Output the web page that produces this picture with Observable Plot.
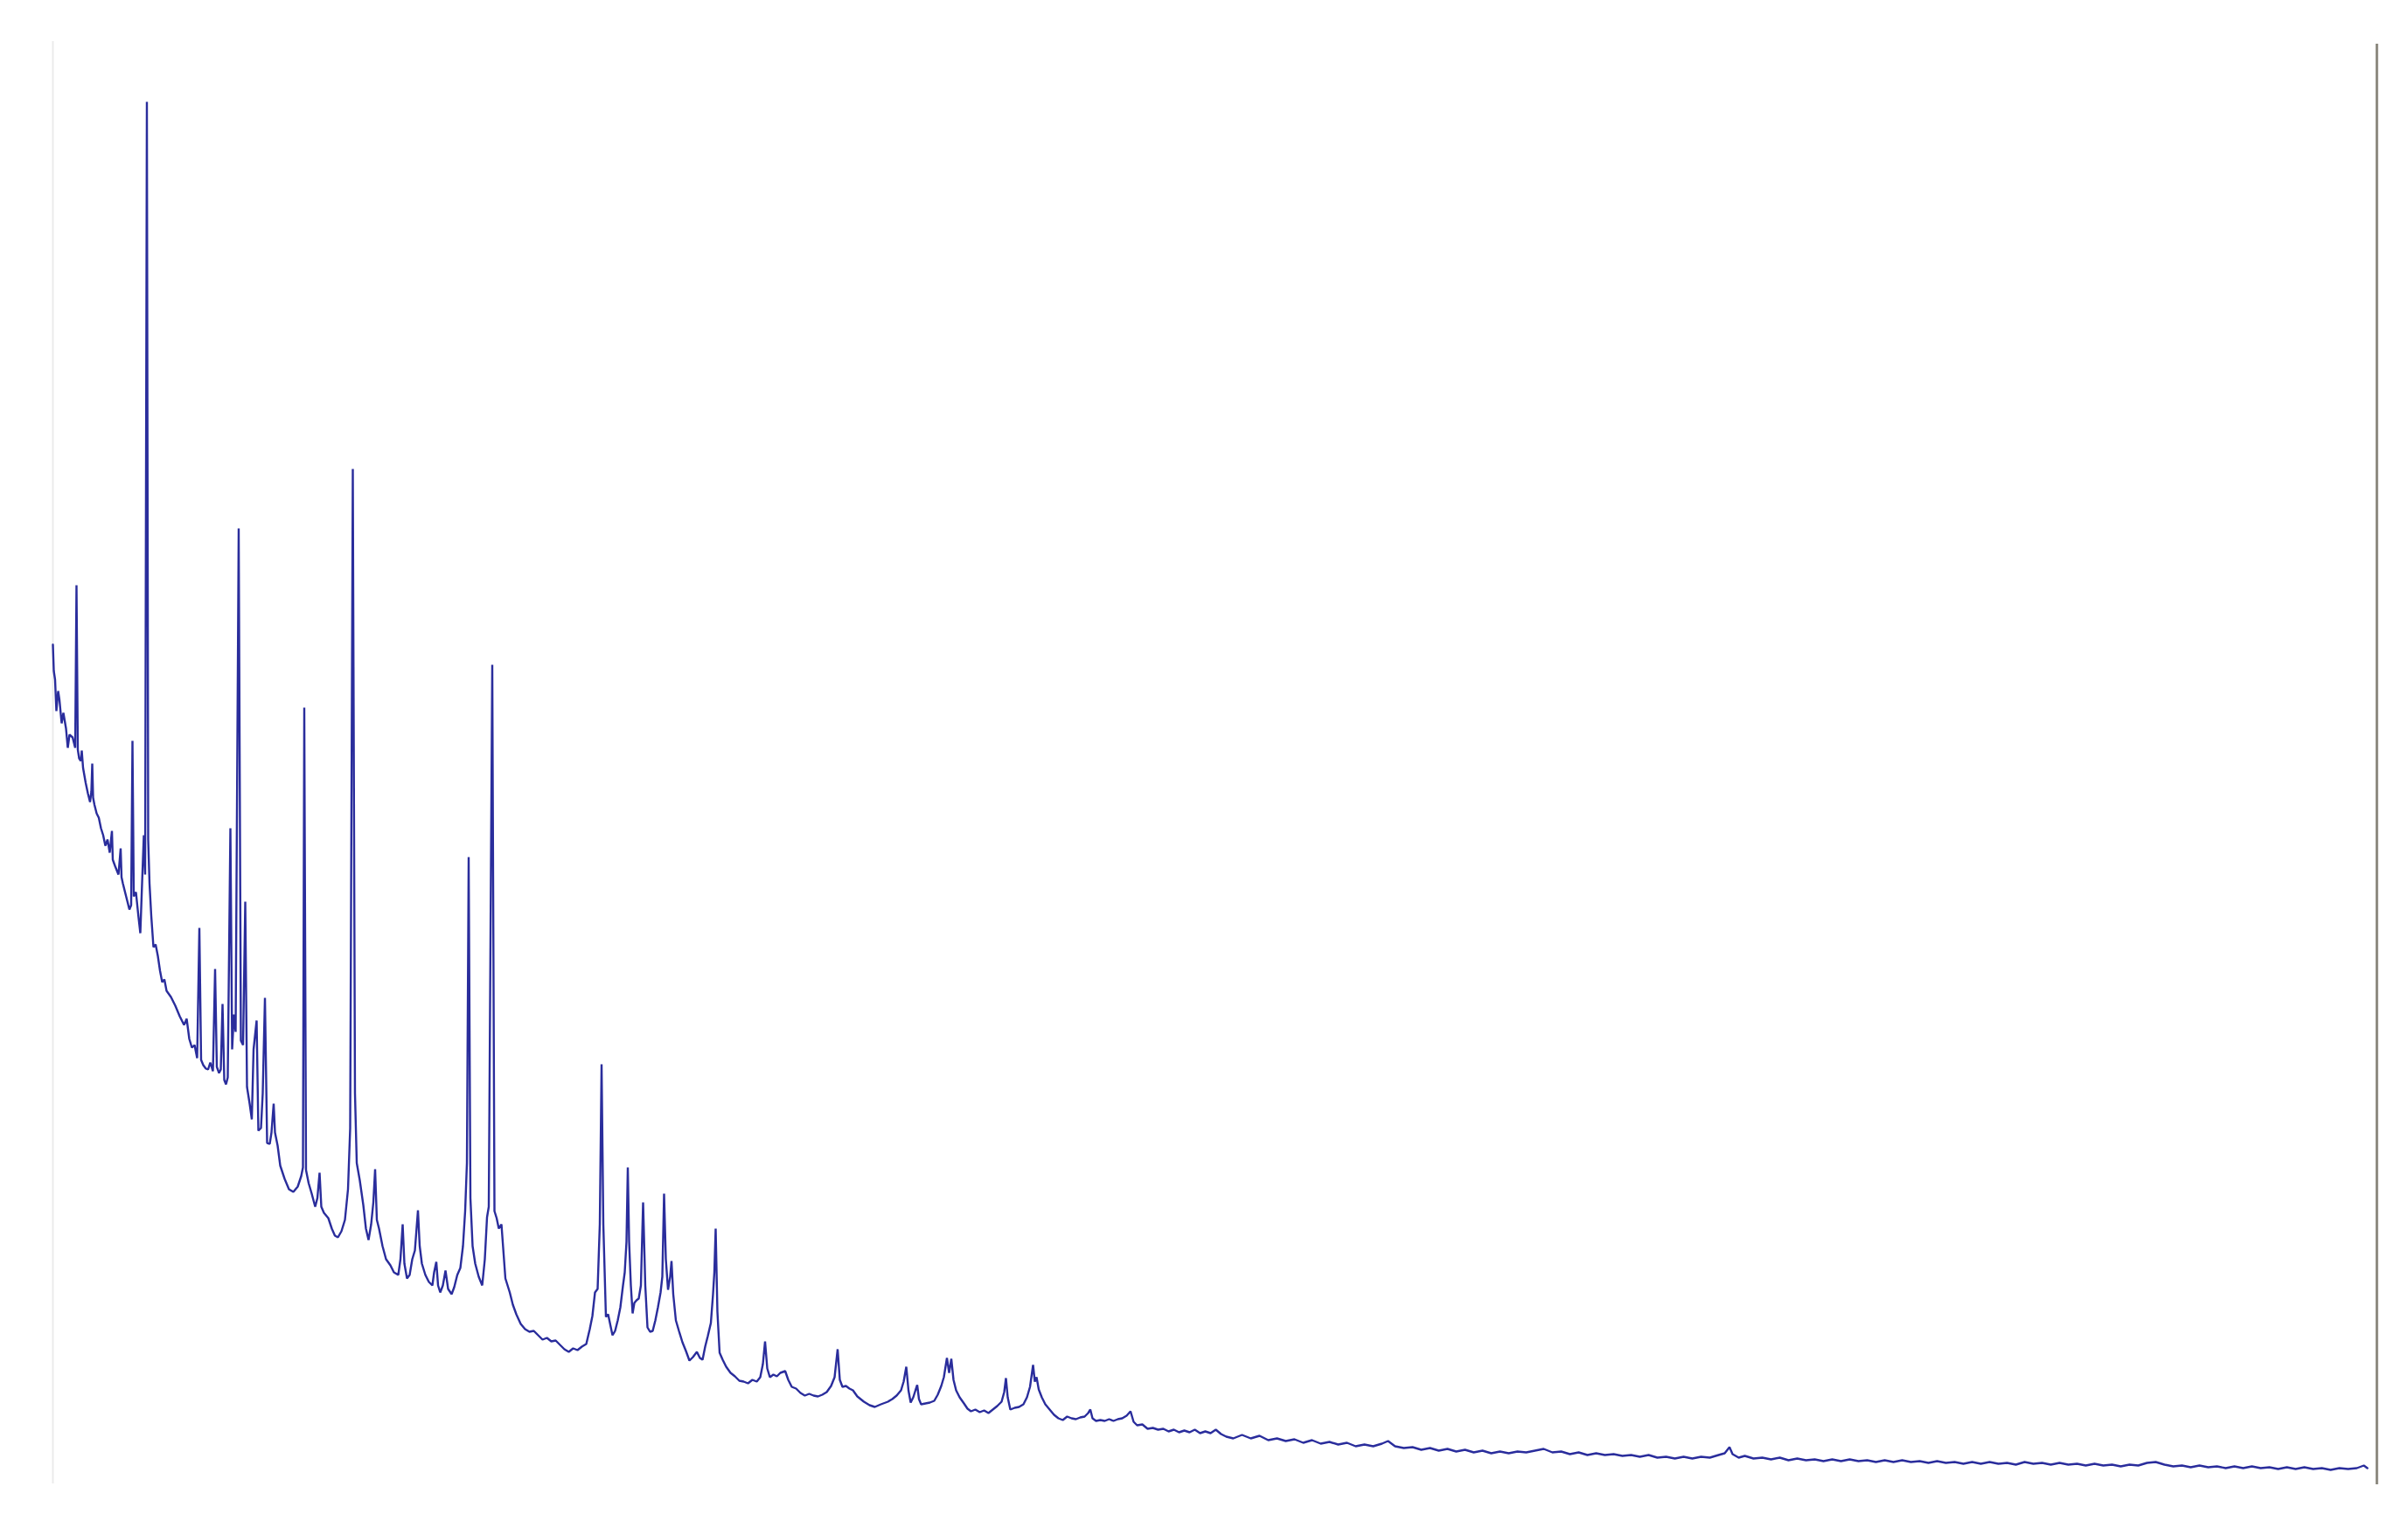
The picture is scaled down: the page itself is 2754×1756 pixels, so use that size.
<!DOCTYPE html>
<html>
<head>
<meta charset="utf-8">
<script src="https://cdn.jsdelivr.net/npm/d3@7"></script>
<script src="https://cdn.jsdelivr.net/npm/@observablehq/plot@0.6"></script>
<style>
  html, body { margin: 0; padding: 0; background: #ffffff; }
  #chart svg { display: block; }
</style>
</head>
<body>
<div id="chart"></div>
<script>
// 2θ (degrees) of each recorded point
const twoTheta = [
  5.000, 5.029, 5.071, 5.114, 5.171, 5.214, 5.286, 5.343, 5.429, 5.486,
  5.543, 5.643, 5.729, 5.771, 5.814, 5.857, 5.914, 5.943, 5.986, 6.071,
  6.143, 6.214, 6.257, 6.286, 6.314, 6.357, 6.429, 6.500, 6.571, 6.643,
  6.714, 6.786, 6.857, 6.929, 6.957, 7.029, 7.143, 7.214, 7.243, 7.286,
  7.357, 7.429, 7.500, 7.557, 7.600, 7.643, 7.714, 7.786, 7.857, 7.914,
  7.971, 8.014, 8.071, 8.114, 8.157, 8.214, 8.286, 8.357, 8.429, 8.500,
  8.571, 8.643, 8.714, 8.857, 9.000, 9.143, 9.286, 9.371, 9.457, 9.543,
  9.629, 9.714, 9.786, 9.843, 9.914, 10.000, 10.071, 10.143, 10.229, 10.300,
  10.357, 10.429, 10.486, 10.543, 10.600, 10.657, 10.714, 10.800, 10.857, 10.914,
  10.971, 11.071, 11.143, 11.214, 11.286, 11.343, 11.429, 11.500, 11.557, 11.657,
  11.714, 11.800, 11.857, 11.929, 12.000, 12.086, 12.143, 12.214, 12.257, 12.343,
  12.429, 12.571, 12.714, 12.857, 13.000, 13.114, 13.171, 13.214, 13.271, 13.357,
  13.457, 13.571, 13.643, 13.714, 13.771, 13.857, 14.000, 14.114, 14.214, 14.314,
  14.429, 14.543, 14.643, 14.714, 14.800, 14.871, 14.929, 15.029, 15.143, 15.229,
  15.314, 15.400, 15.471, 15.529, 15.586, 15.657, 15.771, 15.886, 16.029, 16.143,
  16.286, 16.357, 16.429, 16.486, 16.571, 16.657, 16.743, 16.829, 16.929, 16.986,
  17.057, 17.171, 17.286, 17.400, 17.457, 17.529, 17.586, 17.657, 17.743, 17.829,
  17.914, 18.029, 18.114, 18.214, 18.314, 18.400, 18.471, 18.529, 18.586, 18.643,
  18.714, 18.800, 18.914, 19.029, 19.114, 19.186, 19.243, 19.357, 19.429, 19.500,
  19.571, 19.657, 19.786, 19.929, 20.029, 20.143, 20.286, 20.429, 20.571, 20.714,
  20.857, 21.000, 21.143, 21.286, 21.429, 21.571, 21.714, 21.857, 22.000, 22.143,
  22.286, 22.429, 22.543, 22.629, 22.714, 22.800, 22.871, 22.929, 22.986, 23.071,
  23.143, 23.214, 23.286, 23.371, 23.457, 23.543, 23.629, 23.686, 23.743, 23.786,
  23.829, 23.886, 23.943, 24.000, 24.071, 24.143, 24.214, 24.286, 24.357, 24.429,
  24.514, 24.600, 24.686, 24.771, 24.857, 24.914, 24.971, 25.029, 25.100, 25.171,
  25.214, 25.271, 25.357, 25.457, 25.571, 25.686, 25.800, 25.914, 26.043, 26.143,
  26.229, 26.314, 26.400, 26.500, 26.571, 26.614, 26.657, 26.714, 26.786, 26.886,
  27.000, 27.143, 27.286, 27.429, 27.571, 27.714, 27.857, 28.000, 28.114, 28.200,
  28.271, 28.343, 28.429, 28.543, 28.657, 28.771, 28.929, 29.029, 29.143, 29.286,
  29.429, 29.571, 29.714, 29.857, 30.000, 30.143, 30.286, 30.429, 30.543, 30.643,
  30.714, 30.800, 30.914, 31.029, 31.143, 31.286, 31.500, 31.686, 31.857, 32.057,
  32.286, 32.429, 32.571, 32.714, 32.800, 32.886, 32.957, 33.029, 33.114, 33.186,
  33.243, 33.300, 33.371, 33.514, 33.657, 33.800, 33.914, 34.029, 34.114, 34.214,
  34.286, 34.357, 34.429, 34.514, 34.629, 34.771, 34.886, 35.000, 35.143, 35.286,
  35.429, 35.571, 35.714, 35.857, 36.000, 36.086, 36.143, 36.200, 36.286, 36.429,
  36.571, 36.714, 36.829, 36.929, 37.029, 37.086, 37.143, 37.214, 37.314, 37.429,
  37.571, 37.714, 37.857, 38.000, 38.143, 38.286, 38.429, 38.571, 38.714, 38.829,
  38.900, 38.971, 39.086, 39.229, 39.371, 39.514, 39.657, 39.800, 39.943, 40.086,
  40.214, 40.314, 40.429, 40.600, 40.771, 40.943, 41.114, 41.286, 41.457, 41.629,
  41.800, 41.971, 42.143, 42.314, 42.486, 42.657, 42.829, 43.000, 43.171, 43.343,
  43.571, 43.857, 44.143, 44.429, 44.714, 45.000, 45.286, 45.571, 45.857, 46.143,
  46.429, 46.714, 47.000, 47.286, 47.571, 47.857, 48.143, 48.429, 48.629, 48.857,
  49.143, 49.429, 49.714, 50.000, 50.286, 50.571, 50.857, 51.143, 51.429, 51.714,
  52.000, 52.286, 52.571, 52.857, 53.143, 53.429, 53.714, 54.000, 54.286, 54.571,
  54.857, 55.143, 55.429, 55.714, 56.000, 56.286, 56.571, 56.857, 57.143, 57.429,
  57.714, 58.000, 58.286, 58.571, 58.857, 59.143, 59.429, 59.629, 59.786, 59.886,
  60.086, 60.286, 60.571, 60.857, 61.143, 61.429, 61.714, 62.000, 62.286, 62.571,
  62.857, 63.143, 63.429, 63.714, 64.000, 64.286, 64.571, 64.857, 65.143, 65.429,
  65.714, 66.000, 66.286, 66.571, 66.857, 67.143, 67.429, 67.714, 68.000, 68.286,
  68.571, 68.857, 69.143, 69.429, 69.714, 70.000, 70.286, 70.571, 70.857, 71.143,
  71.429, 71.714, 72.000, 72.286, 72.571, 72.857, 73.143, 73.429, 73.714, 74.000,
  74.286, 74.571, 74.857, 75.143, 75.429, 75.714, 76.000, 76.286, 76.571, 76.857,
  77.143, 77.429, 77.714, 78.000, 78.286, 78.571, 78.857, 79.143, 79.429, 79.714,
  80.000, 80.286, 80.514, 80.629
];

// measured intensity (counts) at each 2θ
const intensity = [
  963, 933, 923, 887, 910, 900, 873, 885, 867, 845,
  860, 857, 845, 1031, 843, 833, 830, 842, 822, 805,
  793, 783, 795, 827, 788, 780, 770, 765, 753, 745,
  733, 740, 725, 750, 717, 710, 700, 730, 697, 690,
  680, 670, 660, 665, 853, 675, 680, 655, 633, 690,
  745, 700, 1584, 740, 690, 653, 617, 620, 607, 590,
  577, 580, 567, 560, 550, 538, 528, 535, 512, 502,
  505, 490, 639, 488, 482, 478, 477, 485, 475, 592,
  480, 473, 477, 552, 465, 460, 468, 753, 500, 540,
  520, 1096, 510, 505, 669, 457, 438, 420, 500, 533,
  407, 410, 450, 559, 393, 392, 405, 438, 405, 390,
  367, 352, 340, 337, 343, 355, 365, 891, 362, 347,
  335, 320, 330, 359, 320, 313, 307, 295, 287, 285,
  292, 305, 340, 410, 1164, 450, 370, 350, 322, 295,
  282, 300, 325, 363, 305, 295, 275, 260, 253, 245,
  242, 260, 300, 255, 238, 242, 260, 270, 316, 275,
  255, 242, 234, 230, 245, 257, 230, 222, 230, 247,
  226, 220, 228, 242, 250, 275, 315, 370, 720, 330,
  275, 255, 240, 230, 260, 308, 320, 940, 315, 307,
  295, 300, 238, 222, 208, 197, 186, 180, 177, 178,
  173, 168, 170, 166, 167, 162, 157, 154, 158, 156,
  160, 163, 180, 195, 222, 226, 300, 483, 300, 194,
  197, 185, 173, 178, 190, 205, 230, 245, 280, 365,
  280, 230, 198, 210, 213, 215, 230, 325, 230, 182,
  177, 178, 190, 205, 222, 240, 335, 260, 225, 240,
  258, 220, 190, 178, 165, 155, 144, 148, 154, 147,
  145, 160, 172, 187, 220, 245, 295, 200, 153, 145,
  137, 130, 126, 121, 120, 118, 122, 120, 125, 140,
  166, 135, 125, 128, 126, 130, 132, 122, 114, 112,
  107, 104, 106, 104, 103, 105, 108, 115, 125, 157,
  122, 114, 115, 112, 110, 103, 97, 93, 91, 94,
  97, 100, 104, 110, 120, 137, 110, 96, 102, 110,
  116, 100, 94, 95, 96, 98, 105, 115, 125, 147,
  130, 146, 122, 110, 102, 95, 89, 86, 88, 85,
  87, 84, 88, 92, 97, 108, 124, 102, 88, 90,
  91, 94, 102, 114, 139, 120, 125, 111, 102, 94,
  88, 82, 78, 76, 80, 78, 77, 79, 80, 84,
  88, 78, 75, 76, 75, 77, 75, 77, 78, 81,
  86, 74, 70, 71, 66, 67, 65, 66, 63, 65,
  62, 64, 62, 65, 61, 63, 61, 65, 60, 57,
  55, 59, 55, 58, 53, 55, 52, 54, 50, 53,
  49, 51, 48, 50, 46, 48, 46, 49, 52, 46,
  44, 45, 42, 44, 41, 43, 40, 42, 39, 41,
  38, 40, 38, 40, 39, 41, 43, 39, 40, 37,
  39, 36, 38, 36, 37, 35, 36, 34, 36, 33,
  34, 32, 34, 32, 34, 33, 36, 38, 45, 37,
  33, 35, 32, 33, 31, 33, 30, 32, 30, 31,
  29, 31, 29, 31, 29, 30, 28, 30, 28, 30,
  28, 29, 27, 29, 27, 28, 26, 28, 26, 28,
  26, 27, 25, 28, 26, 27, 25, 27, 25, 26,
  24, 26, 24, 25, 23, 25, 24, 27, 28, 25,
  23, 24, 22, 24, 22, 23, 21, 23, 21, 23,
  21, 22, 20, 22, 20, 22, 20, 21, 19, 21,
  20, 21, 24, 21
];

// instrument frame (in 2θ / counts)
const frameLeft = 5.0;
const frameRight = 80.94;
const frameLeftSpan = [3, 1653];
const frameRightSpan = [2, 1650];

const pattern = twoTheta.map((t, i) => ({t, c: intensity[i]}));

const chart = Plot.plot({
  width: 2754,
  height: 1756,
  marginLeft: 60,
  marginRight: 34,
  marginTop: 50,
  marginBottom: 56,
  x: {domain: [5, 81], axis: null},
  y: {domain: [0, 1650], axis: null},
  marks: [
    Plot.ruleX([frameLeft], {y1: frameLeftSpan[0], y2: frameLeftSpan[1], stroke: "#ebebeb", strokeWidth: 2}),
    Plot.ruleX([frameRight], {y1: frameRightSpan[0], y2: frameRightSpan[1], stroke: "#8d8a80", strokeWidth: 3}),
    Plot.line(pattern, {x: "t", y: "c", stroke: "#2a2d9c", strokeWidth: 2.4, strokeLinejoin: "miter"})
  ]
});
document.getElementById("chart").appendChild(chart);
</script>
</body>
</html>
